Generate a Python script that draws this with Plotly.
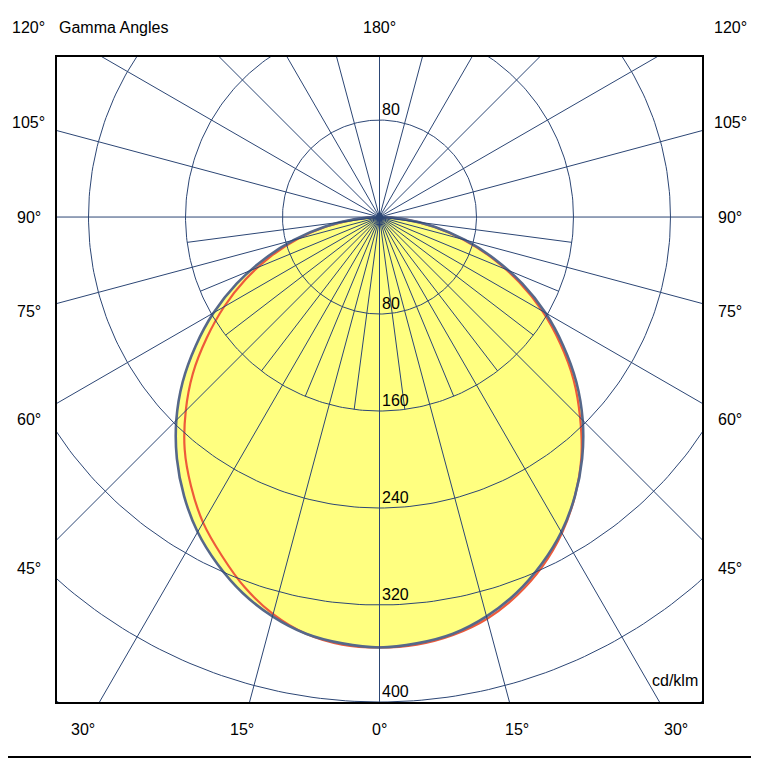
import numpy as np
import plotly.graph_objects as go

# gamma angles (deg) and luminous intensity in cd/klm for the two planes
gamma = [0, 5, 10, 15, 20, 25, 30, 35, 40, 45, 50, 55, 60, 65, 70, 75, 80, 85, 90]
c0 = [355, 353, 349, 341, 330, 316, 300, 281, 260, 237, 212, 185, 158, 130, 101, 73, 46, 20, 0]
c180 = [355, 353, 349, 341, 330, 316, 300, 281, 260, 237, 212, 185, 158, 130, 101, 73, 46, 20, 0]
c90 = [355, 354, 350, 343, 332, 318, 301, 281, 259, 234, 209, 182, 155, 127, 99, 71, 45, 20, 0]
c270 = [355, 354, 349, 339, 325, 308, 291, 271, 250, 226, 201, 174, 148, 122, 96, 70, 44, 19, 0]

rings = [80, 160, 240, 320, 400, 480]
ring_labels = ["80", "160", "240", "320", "400"]
angle_labels = [15, 30, 45, 60, 75, 90, 105, 120]

GRID = "#2c4675"
GRAY = "#56688a"
RED = "#ee5a3a"
FILL = "#ffff80"
FONT = dict(family="Liberation Sans, Arial, sans-serif", size=16, color="black")

XR = [-266, 266]
YR = [-400, 132]


def to_xy(g, r, side):
    g = np.radians(np.asarray(g, dtype=float))
    r = np.asarray(r, dtype=float)
    return side * r * np.sin(g), -r * np.cos(g)


def to_paper(x, y):
    return (x - XR[0]) / (XR[1] - XR[0]), (y - YR[0]) / (YR[1] - YR[0])


def plane(left, right):
    xl, yl = to_xy(gamma[::-1], left[::-1], -1)
    xr, yr = to_xy(gamma, right, 1)
    return np.r_[xl, xr[1:]], np.r_[yl, yr[1:]]


fig = go.Figure()

# yellow body bounded by the C0-C180 curve
px, py = plane(c180, c0)
fig.add_trace(go.Scatter(x=px, y=py, mode="lines", fill="toself", fillcolor=FILL,
                         line=dict(width=0, shape="spline", smoothing=1), hoverinfo="skip"))

# C90-C270 curve
px, py = plane(c270, c90)
fig.add_trace(go.Scatter(x=px, y=py, mode="lines",
                         line=dict(color=RED, width=2.2, shape="spline", smoothing=1),
                         hoverinfo="skip"))

# C0-C180 outline
px, py = plane(c180, c0)
fig.add_trace(go.Scatter(x=px, y=py, mode="lines",
                         line=dict(color=GRAY, width=2.6, shape="spline", smoothing=1),
                         hoverinfo="skip"))

# polar grid: rings and spokes
gx, gy = [], []
t = np.linspace(0, 2 * np.pi, 361)
for r in rings:
    gx += list(r * np.cos(t)) + [None]
    gy += list(r * np.sin(t)) + [None]
for a in range(0, 360, 15):
    sx, sy = to_xy([0, a], [0, 800], 1)
    gx += list(sx) + [None]
    gy += list(sy) + [None]
for a in np.arange(7.5, 90, 15):
    for side in (-1, 1):
        sx, sy = to_xy([0, a], [0, 160], side)
        gx += list(sx) + [None]
        gy += list(sy) + [None]
fig.add_trace(go.Scatter(x=gx, y=gy, mode="lines", line=dict(color=GRID, width=1),
                         hoverinfo="skip"))
fig.add_trace(go.Scatter(x=[0], y=[0], mode="markers", marker=dict(color=GRID, size=7),
                         hoverinfo="skip"))

# radial value labels
for r, lab in zip(rings, ring_labels):
    fig.add_annotation(x=0, y=-r, text=lab, showarrow=False, xanchor="left",
                       yanchor="bottom", font=FONT)
fig.add_annotation(x=0, y=rings[0], text=ring_labels[0], showarrow=False, xanchor="left",
                   yanchor="bottom", font=FONT)

# gamma angle labels around the frame (outside the axes, so placed in paper units)
S, B, T = 289.5, -423.0, 156.7
labels = [(0.0, B, "0°"), (0.0, T, "180°")]
for a in angle_labels:
    for side in (-1, 1):
        if a < 45:
            lx, ly = side * -B * np.tan(np.radians(a)), B
        elif a == 90:
            lx, ly = side * S, 0.0
        else:
            lx = side * S
            ly = float(np.clip(-S / np.tan(np.radians(a)), B, T))
        labels.append((lx, ly, f"{a}°"))
for lx, ly, txt in labels:
    ax, ay = to_paper(lx, ly)
    fig.add_annotation(x=ax, y=ay, xref="paper", yref="paper", text=txt,
                       xanchor="center", yanchor="middle", showarrow=False, font=FONT)

ax, ay = to_paper(-266, T)
fig.add_annotation(x=ax, y=ay, xref="paper", yref="paper", text="Gamma Angles",
                   showarrow=False, xanchor="left", yanchor="middle", font=FONT)
fig.add_annotation(x=264, y=-382, text="cd/klm", showarrow=False, xanchor="right",
                   yanchor="middle", font=FONT)

# outer frame of the picture (right and bottom edges)
fig.add_shape(type="line", xref="paper", yref="paper", x0=1.0822, x1=1.0822,
              y0=-0.0853, y1=1.08, line=dict(color="black", width=2))
fig.add_shape(type="line", xref="paper", yref="paper", x0=-0.08, x1=1.0822,
              y0=-0.0853, y1=-0.0853, line=dict(color="black", width=2))

axis = dict(showgrid=False, zeroline=False, showticklabels=False, ticks="",
            showline=True, mirror=True, linecolor="black", linewidth=1.5, fixedrange=True)
fig.update_layout(
    width=751, height=751,
    margin=dict(l=49, r=57, t=49, b=57),
    paper_bgcolor="white", plot_bgcolor="white",
    showlegend=False,
    xaxis=dict(range=XR, **axis),
    yaxis=dict(range=YR, **axis),
)

fig.write_html("out.html")
